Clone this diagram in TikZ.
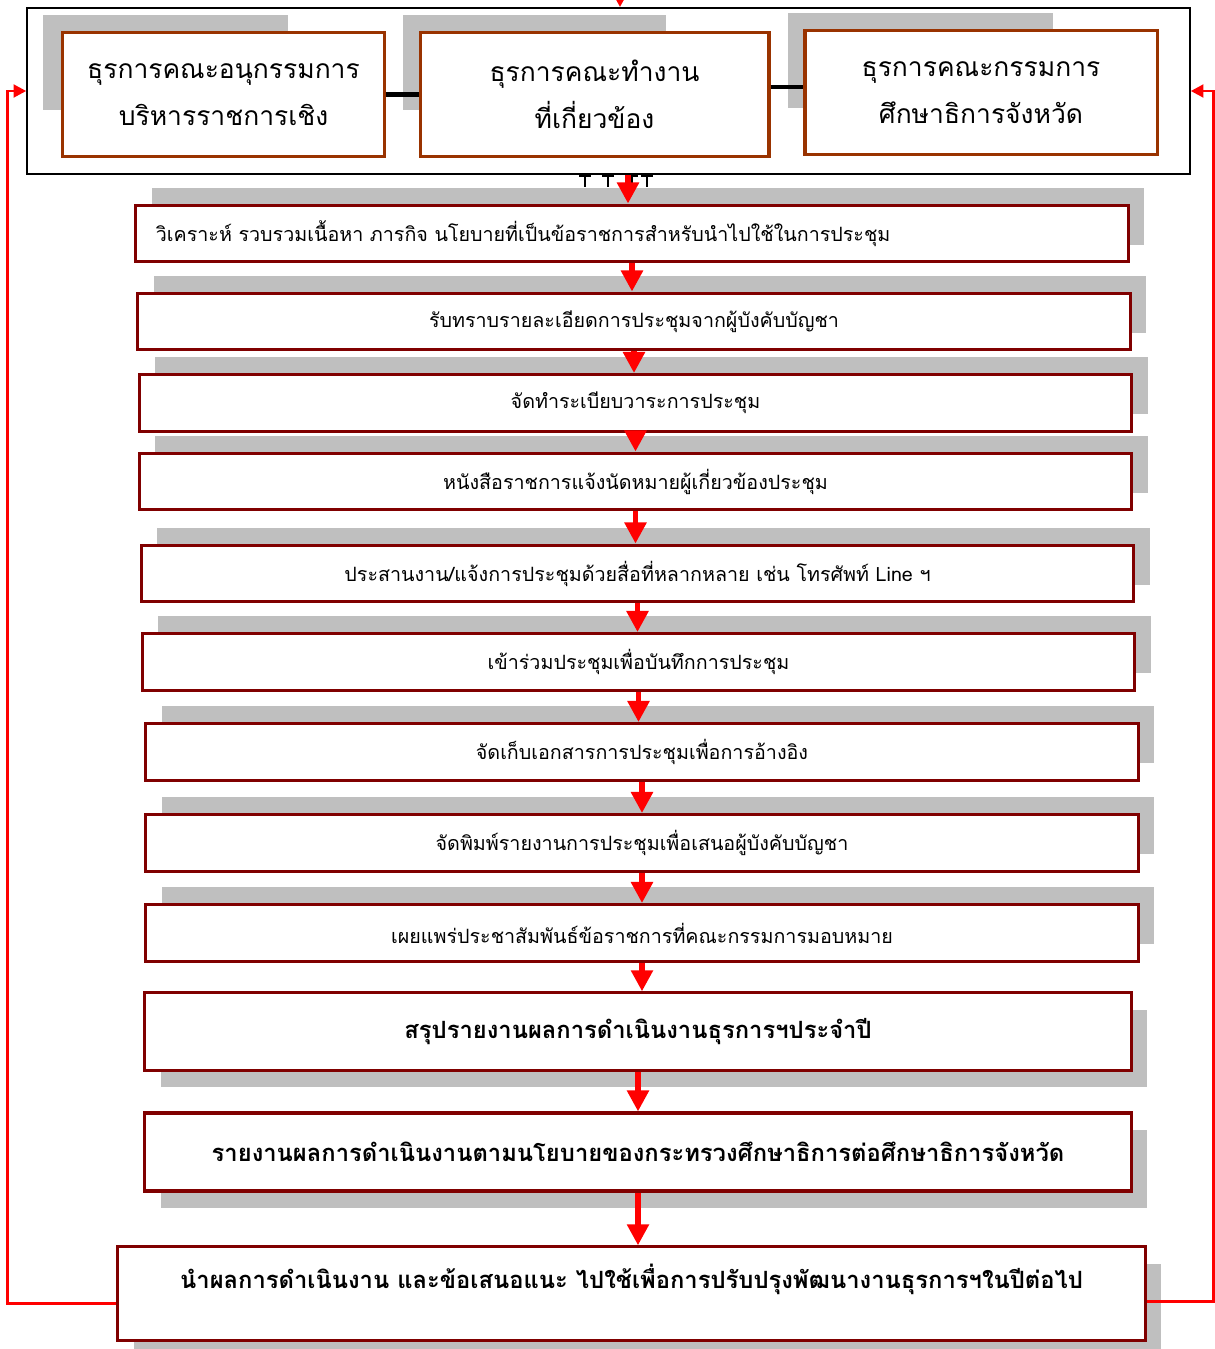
\documentclass[tikz,border=0pt]{standalone}
\usepackage{fontspec}
\setmainfont{Loma}[Script=Thai]
\usetikzlibrary{arrows.meta,shadows}
\definecolor{boxred}{RGB}{128,0,0}
\definecolor{topbrown}{RGB}{153,51,0}
\definecolor{shadegray}{RGB}{191,191,191}

\tikzset{
  plainbox/.style={draw=boxred, line width=2.2pt, fill=white, align=center,
    minimum width=24.8cm, minimum height=1.42cm, inner sep=0pt},
  stepbox/.style={plainbox, font=\fontsize{14}{17}\selectfont,
    general shadow={fill=shadegray, shadow xshift=0.4cm, shadow yshift=0.43cm}},
  endbox/.style={plainbox, font=\bfseries\fontsize{16.9}{20}\selectfont,
    general shadow={fill=shadegray, shadow xshift=0.4cm, shadow yshift=-0.42cm}},
  topbox/.style={draw=topbrown, line width=2.2pt, fill=white, align=center,
    minimum height=3.12cm, inner sep=0pt, font=\fontsize{18.8}{33}\selectfont},
  topshade/.style={fill=shadegray},
  flow/.style={draw=red, line width=4pt, -{Triangle[length=15pt,width=15pt]}},
  backloop/.style={draw=red, line width=2pt, -{Triangle[length=9pt,width=9pt]}},
  tie/.style={draw=black, line width=3.5pt}
}

\begin{document}
\begin{tikzpicture}[x=0.025cm, y=-0.025cm]
\useasboundingbox (0,0) rectangle (1215,1349);

% committee frame
\node[draw=black, line width=1pt, minimum width=29.07cm, minimum height=4.15cm] (comframe) at (608.5,91) {};
\fill[topshade] (43,15) rectangle (288,110);
\fill[topshade] (403,15) rectangle (666,110);
\fill[topshade] (788,13) rectangle (1053,108);
\node[topbox, minimum width=8.07cm] (subcom) at (223.5,94.5) {ธุรการคณะอนุกรรมการ\\บริหารราชการเชิง};
\node[topbox, minimum width=8.72cm] (workgrp) at (594.5,94.5) {ธุรการคณะทำงาน\\ที่เกี่ยวข้อง};
\node[topbox, minimum width=8.8cm] (provcom) at (981,92.5) {ธุรการคณะกรรมการ\\ศึกษาธิการจังหวัด};
\draw[tie] (subcom) -- (workgrp);
\draw[tie] (workgrp.east |- 0,87) -- (provcom.west |- 0,87);
\foreach \x in {585,608,632,647}
  \draw[line width=2pt] (\x-6,176) -- (\x+6,176) (\x,176) -- (\x,187);

% steps
\node[stepbox, align=left, text width=23.8cm, inner xsep=0.5cm] (s1) at (632,233.5) {วิเคราะห์ รวบรวมเนื้อหา ภารกิจ นโยบายที่เป็นข้อราชการสำหรับนำไปใช้ในการประชุม};
\node[stepbox] (s2) at (634,321.5) {รับทราบรายละเอียดการประชุมจากผู้บังคับบัญชา};
\node[stepbox] (s3) at (635.5,403) {จัดทำระเบียบวาระการประชุม};
\node[stepbox] (s4) at (635.5,481.5) {หนังสือราชการแจ้งนัดหมายผู้เกี่ยวข้องประชุม};
\node[stepbox] (s5) at (637.5,573.5) {ประสานงาน/แจ้งการประชุมด้วยสื่อที่หลากหลาย เช่น โทรศัพท์ Line ฯ};
\node[stepbox] (s6) at (638.5,662) {เข้าร่วมประชุมเพื่อบันทึกการประชุม};
\node[stepbox] (s7) at (642,752) {จัดเก็บเอกสารการประชุมเพื่อการอ้างอิง};
\node[stepbox] (s8) at (642,843) {จัดพิมพ์รายงานการประชุมเพื่อเสนอผู้บังคับบัญชา};
\node[stepbox] (s9) at (642,933) {เผยแพร่ประชาสัมพันธ์ข้อราชการที่คณะกรรมการมอบหมาย};
\node[endbox, minimum width=24.65cm, minimum height=1.93cm] (sum) at (638,1031.5) {สรุปรายงานผลการดำเนินงานธุรการฯประจำปี};
\node[endbox, minimum width=24.65cm, minimum height=1.95cm] (rep) at (638,1152) {รายงานผลการดำเนินงานตามนโยบายของกระทรวงศึกษาธิการต่อศึกษาธิการจังหวัด};
\node[endbox, minimum width=25.68cm, minimum height=2.33cm, text height=0.5cm, text depth=0.75cm] (use) at (631.5,1293.5) {นำผลการดำเนินงาน และข้อเสนอแนะ ไปใช้เพื่อการปรับปรุงพัฒนางานธุรการฯในปีต่อไป};

% flow arrows
\coordinate (src) at (620,-40);
\coordinate (entry) at (628,0);
\draw[flow] (src) -- (src |- comframe.north);
\draw[flow] (comframe.south -| entry) -- (entry |- s1.north);
\foreach \a/\b in {s1/s2,s2/s3,s3/s4,s4/s5,s5/s6,s6/s7,s7/s8,s8/s9,s9/sum,sum/rep,rep/use}
  \draw[flow] (\a.south) -- (\a.south |- \b.north);

% feedback to committees
\draw[backloop] ([yshift=-0.24cm]use.west) -| ([xshift=-0.475cm]comframe.west) -- (comframe.west);
\draw[backloop] ([yshift=-0.2cm]use.east) -| ([xshift=0.575cm]comframe.east) -- (comframe.east);
\end{tikzpicture}
\end{document}
